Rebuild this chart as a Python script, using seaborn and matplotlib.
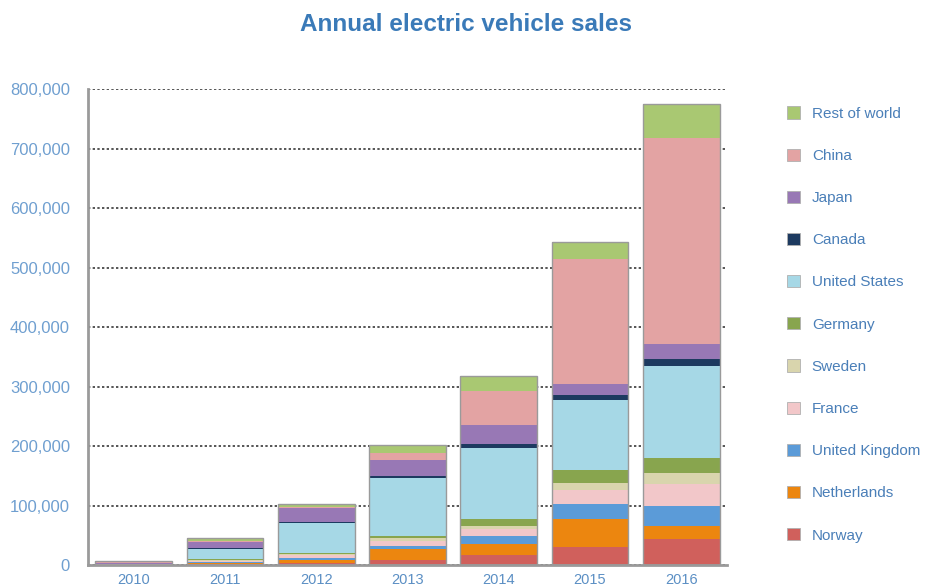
import matplotlib
matplotlib.use("Agg")
import matplotlib.pyplot as plt
from matplotlib.patches import Patch
import numpy as np
import pandas as pd
import seaborn as sns

years = ["2010", "2011", "2012", "2013", "2014", "2015", "2016"]

# Sales per country (stacked bottom to top)
norway = [400, 2000, 4000, 9000, 17000, 31000, 44000]
netherlands = [100, 1000, 5000, 18000, 18000, 46000, 22000]
united_kingdom = [200, 1500, 2000, 5000, 14000, 25000, 34000]
france = [200, 3000, 6000, 8000, 12000, 24000, 36000]
sweden = [100, 500, 1000, 5000, 5000, 12000, 18000]
germany = [200, 2000, 3000, 4000, 12000, 21000, 26000]
united_states = [500, 17500, 50000, 97000, 119000, 119000, 155000]
canada = [100, 500, 2000, 3000, 7000, 7000, 11000]
japan = [2400, 11000, 22000, 28000, 31000, 19000, 25000]
china = [1300, 1000, 3000, 11000, 58000, 210000, 346000]
rest_of_world = [1500, 5000, 5000, 13000, 25000, 29000, 57000]

series = [
    ("Norway", norway, "#d0605c"),
    ("Netherlands", netherlands, "#ec860f"),
    ("United Kingdom", united_kingdom, "#5b9bd8"),
    ("France", france, "#f2c7c9"),
    ("Sweden", sweden, "#d9d5ad"),
    ("Germany", germany, "#88a54e"),
    ("United States", united_states, "#a6d8e6"),
    ("Canada", canada, "#1d3a60"),
    ("Japan", japan, "#9878b5"),
    ("China", china, "#e3a3a3"),
    ("Rest of world", rest_of_world, "#a9c872"),
]

sns.set_style("white")
plt.rcParams["font.family"] = ["Liberation Sans", "DejaVu Sans"]

fig = plt.figure(figsize=(9.32, 5.86), dpi=100)
ax = fig.add_axes([0.0944, 0.0358, 0.6856, 0.8123])

# cumulative tops, drawn from the tallest down so each layer shows its own band
cum = np.cumsum(np.array([s[1] for s in series], dtype=float), axis=0)
for i in range(len(series) - 1, -1, -1):
    df = pd.DataFrame({"year": years, "value": cum[i]})
    sns.barplot(data=df, x="year", y="value", color=series[i][2],
                saturation=1, width=0.84, linewidth=0, ax=ax, zorder=2)

# outline of every bar
df_tot = pd.DataFrame({"year": years, "value": cum[-1]})
sns.barplot(data=df_tot, x="year", y="value", fill=False, width=0.84,
            edgecolor="#9a9a9a", linewidth=1.0, ax=ax, zorder=3)

ax.set_xlim(-0.5, 6.5)
ax.set_ylim(0, 800000)
ax.set_yticks(np.arange(0, 800001, 100000))
ax.set_yticklabels([f"{v:,}" for v in range(0, 800001, 100000)])
ax.set_xlabel("")
ax.set_ylabel("")

ax.yaxis.grid(True, color="#555555", linestyle=(0, (1.2, 1.2)), linewidth=1.4, zorder=0)
ax.xaxis.grid(False)
ax.set_axisbelow(True)

for side in ["top", "right"]:
    ax.spines[side].set_visible(False)
ax.spines["left"].set_color("#9a9a9a")
ax.spines["left"].set_linewidth(2)
ax.spines["bottom"].set_color("#9a9a9a")
ax.spines["bottom"].set_linewidth(2)

ax.set_xticks(np.arange(0.5, 6.6, 1), minor=True)
ax.tick_params(axis="x", which="major", length=0, pad=6, labelsize=10.5, labelcolor="#5b8fc4")
ax.tick_params(axis="x", which="minor", length=5, width=1, color="#9a9a9a", direction="out")
ax.tick_params(axis="y", which="major", length=6, width=1, color="#9a9a9a",
               labelsize=12, labelcolor="#6f9fd0", pad=7)

fig.suptitle("Annual electric vehicle sales", x=0.5, y=0.978, fontsize=17.5,
             fontweight="bold", color="#3a7ab8")

handles = [Patch(facecolor=c, edgecolor="#b0b0b0", linewidth=0.6, label=n)
           for n, _, c in reversed(series)]
leg = fig.legend(handles=handles, loc="upper left", bbox_to_anchor=(0.83, 0.842),
                 frameon=False, fontsize=11, handlelength=0.85, handleheight=0.85,
                 handletextpad=0.75, labelspacing=1.82)
for t in leg.get_texts():
    t.set_color("#4a7fb8")

fig.savefig("out.png", dpi=100)
